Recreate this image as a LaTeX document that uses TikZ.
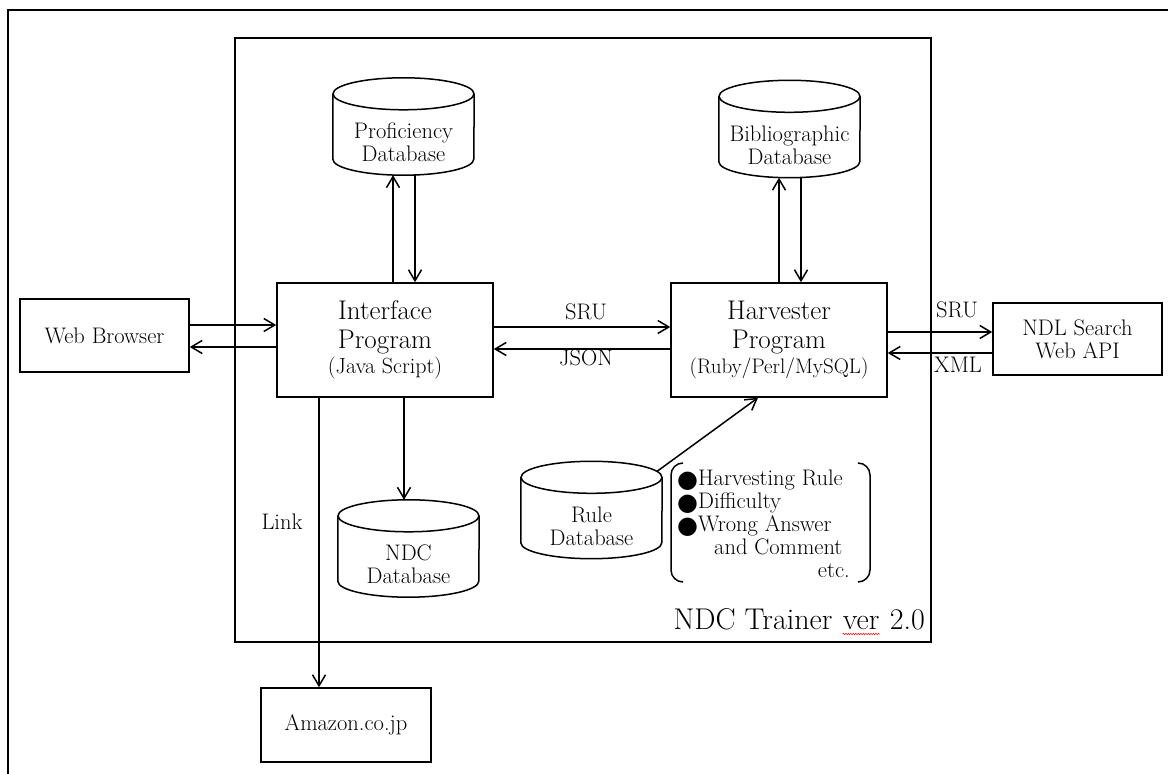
\documentclass[tikz,border=0pt]{standalone}
\usepackage{fontspec}
\newfontfamily\bulletfont{DejaVu Sans}
\usetikzlibrary{arrows.meta,calc,decorations.pathmorphing}
\tikzset{
  ln/.style={line width=1.5pt},
  arr/.style={ln, -{Straight Barb[length=11pt,width=13pt]}},
  box/.style={draw, ln, rectangle, inner sep=0pt, align=center, font=\fontsize{22.5}{23}\selectfont},
  prog/.style={box, minimum width=216pt, minimum height=114pt, font=\fontsize{27}{29}\selectfont},
  db/.style={rectangle, inner sep=0pt, minimum width=141pt, minimum height=65pt, align=center, font=\fontsize{22.5}{23}\selectfont},
  lbl/.style={inner sep=0pt, font=\fontsize{22.5}{23}\selectfont},
  ttl/.style={inner sep=0pt, font=\fontsize{30}{34}\selectfont},
}
\newcommand\dbshape[1]{%
  \draw[ln] ($(#1.north)+(0,16)$) ellipse [x radius=70.5, y radius=16];
  \draw[ln] ($(#1.north west)+(0,16)$) -- ($(#1.south west)+(0,16)$)
    arc[start angle=180, end angle=360, x radius=70.5, y radius=16]
    -- ($(#1.north east)+(0,16)$);
}
\newcommand\blt{{\bulletfont\fontsize{24}{23}\selectfont\raisebox{-1.5pt}{●}}}
\begin{document}
\begin{tikzpicture}[x=1pt,y=1pt]
\useasboundingbox (0,0) rectangle (1168,774);
% frames
\draw[ln] (8,0) -- (8,764) -- (1168,764);
\draw[ln] (235,132) rectangle (931,736);

% boxes
\node[box, minimum width=169pt, minimum height=73pt] (wb) at (104.5,438.5) {Web Browser};
\node[prog] (ip) at (385,434) {Interface\\Program\\[-4pt]{\fontsize{22}{23}\selectfont (Java Script)}};
\node[prog] (hp) at (779,434) {Harvester\\Program\\[-4pt]{\fontsize{21}{23}\selectfont (Ruby/Perl/MySQL)}};
\node[box, minimum width=169pt, minimum height=72pt] (ndl) at (1077.5,435) {NDL Search\\Web API};
\node[box, minimum width=170pt, minimum height=74pt] (am) at (346,49) {Amazon.co.jp};

% databases
\node[db] (pd) at (403.5,631.5) {Proficiency\\Database};
\node[db] (bd) at (789.5,629) {Bibliographic\\Database};
\node[db] (ndc) at (408.5,209.5) {NDC\\Database};
\node[db] (rule) at (591.5,248) {Rule\\Database};
\dbshape{pd}
\dbshape{bd}
\dbshape{ndc}
\dbshape{rule}

% browser <-> interface
\coordinate (w1) at ([yshift=10.5pt]wb.east);
\coordinate (w2) at ([yshift=-11.5pt]wb.east);
\draw[arr] (w1) -- (w1 -| ip.west);
\draw[arr] (w2 -| ip.west) -- (w2);

% interface <-> harvester
\coordinate (s1) at ([yshift=13pt]ip.east);
\coordinate (j1) at ([yshift=-9pt]ip.east);
\draw[arr] (s1) -- (s1 -| hp.west);
\draw[arr] (j1 -| hp.west) -- (j1);
\node[lbl] (sru1) at (586,462) {SRU};
\node[lbl] (json) at (586,416) {JSON};

% harvester <-> NDL
\coordinate (s2) at ([yshift=8pt]hp.east);
\coordinate (x2) at ([yshift=-13pt]hp.east);
\draw[arr] (s2) -- (s2 -| ndl.west);
\draw[arr] (x2 -| ndl.west) -- (x2);
\node[lbl] (sru2) at (957,464) {SRU};
\node[lbl] (xml) at (958,409) {XML};

% proficiency <-> interface
\coordinate (pdL) at ([xshift=-10.5pt]pd.south);
\coordinate (pdR) at ([xshift=11.5pt]pd.south);
\draw[arr] (pdL |- ip.north) -- (pdL);
\draw[arr] (pdR) -- (pdR |- ip.north);

% bibliographic <-> harvester
\coordinate (bdL) at ([xshift=-10.5pt]bd.south);
\coordinate (bdR) at ([xshift=11.5pt]bd.south);
\draw[arr] (bdL |- hp.north) -- (bdL);
\draw[arr] (bdR) -- (bdR |- hp.north);

% interface -> NDC database
\coordinate (ndcT) at ([yshift=32pt]ndc.north);
\coordinate (ipB) at ([xshift=19pt]ip.south);
\draw[arr] (ipB) -- (ipB |- ndcT);

% link to amazon
\coordinate (lk) at ([xshift=-27pt]am.north);
\draw[arr] (lk |- ip.south) -- (lk);
\node[lbl] (linklbl) at (282,252) {Link};

% rule -> harvester
\coordinate (rs) at ($(rule.north)+(0,16)+(65.5,5.9)$);
\draw[arr] (rs) -- ([xshift=-21pt]hp.south);

% rule list with bracket pair
\draw[ln] (683,311) to[out=180,in=90] (671,299) -- (671,204) to[out=-90,in=180] (683,192);
\draw[ln] (858,311) to[out=0,in=90] (870,299) -- (870,204) to[out=-90,in=0] (858,192);
\node[lbl, anchor=base west] (r1) at (677,288) {\blt Harvesting Rule};
\node[lbl, anchor=base west] (r2) at (677,265) {\blt Difficulty};
\node[lbl, anchor=base west] (r3) at (677,242) {\blt Wrong Answer};
\node[lbl, anchor=base west] (r4) at (714,219) {and Comment};
\node[lbl, anchor=base east] (r5) at (850,196) {etc.};

% title
\node[ttl, anchor=base east] (t3) at (925,144) {2.0};
\node[ttl, anchor=base east] (t2) at ([xshift=-10pt]t3.base west) {ver};
\node[ttl, anchor=base east] (t1) at ([xshift=-10pt]t2.base west) {NDC Trainer};
\draw[red, line width=0.6pt, decorate, decoration={snake, amplitude=0.7pt, segment length=2.5pt}]
  ([yshift=-4pt]t2.base west) -- ([yshift=-4pt]t2.base east);
\end{tikzpicture}
\end{document}
